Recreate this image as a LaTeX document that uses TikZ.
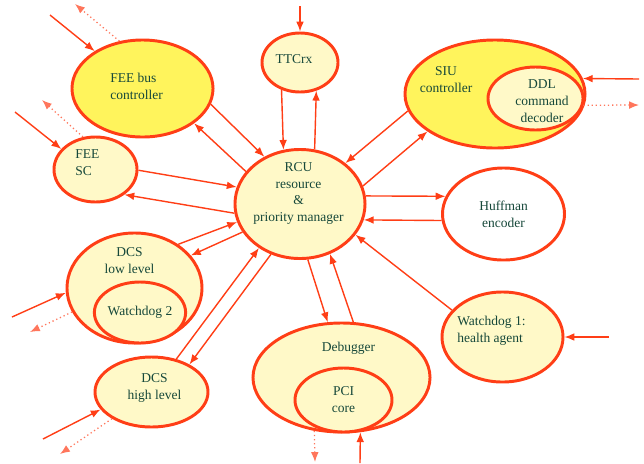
\documentclass[tikz,border=0pt]{standalone}
\usepackage{fontspec}
\setmainfont{Liberation Serif}
\usetikzlibrary{ shapes.geometric, % For the ellipses
                 arrows.meta,
               }
\definecolor{rcured}{RGB}{255,62,22}
\definecolor{rcudot}{RGB}{255,118,92}
\definecolor{rcupale}{RGB}{255,249,200}
\definecolor{rcuyellow}{RGB}{255,244,92}
\definecolor{rcutext}{RGB}{22,72,58}
\tikzstyle{unit} = [ellipse, draw=rcured, line width=2.1pt, fill=rcupale, inner sep=0pt,
                    text=rcutext, align=center, font=\fontsize{9.6}{12}\selectfont]
\tikzstyle{hotunit} = [unit, fill=rcuyellow]
\tikzstyle{txt} = [text=rcutext, align=center, inner sep=0pt, font=\fontsize{9.6}{12}\selectfont]
\tikzstyle{link} = [draw=rcured, line width=1pt, -{Latex[length=7pt,width=5.5pt]}]
\tikzstyle{spare} = [draw=rcudot, line width=0.9pt, dotted, -{Latex[length=7pt,width=5.5pt]}]

\begin{document}
\begin{tikzpicture}[x=0.025cm, y=-0.025cm]
  \useasboundingbox (0,0) rectangle (644,463);

  % the units
  \node (fee_bus) [hotunit, minimum width=3.525cm, minimum height=2.425cm] at (142.5, 88.5) {};
  \node (fee_sc) [unit, minimum width=2.075cm, minimum height=1.625cm] at (95.5, 169.5) {};
  \node (ttcrx) [unit, minimum width=1.9cm, minimum height=1.475cm] at (300, 62.5) {};
  \node (rcu) [unit, minimum width=3.25cm, minimum height=2.725cm] at (300, 204) {};
  \node (siu) [hotunit, minimum width=4.5cm, minimum height=2.7cm] at (495, 94) {};
  \node (ddl) [unit, minimum width=2.375cm, minimum height=1.575cm] at (535.5, 98.5) {};
  \node (huffman) [unit, fill=white, minimum width=3.05cm, minimum height=2.3cm] at (503.5, 214) {Huffman\\encoder};
  \node (wd_1) [unit, minimum width=3.025cm, minimum height=2.25cm] at (502.5, 337) {};
  \node (dcs_low) [unit, minimum width=3.375cm, minimum height=2.75cm] at (134.5, 288) {};
  \node (wd_2) [unit, minimum width=2.25cm, minimum height=1.525cm] at (140, 312.5) {Watchdog 2};
  \node (dcs_high) [unit, minimum width=2.825cm, minimum height=1.75cm] at (151.5, 392) {};
  \node (debugger) [unit, minimum width=4.425cm, minimum height=2.725cm] at (341.5, 377.5) {};
  \node (pci) [unit, minimum width=2.425cm, minimum height=1.6cm] at (343.5, 400) {PCI\\core};

  % the texts
  \node (fee_bus_txt) [txt, anchor=west, align=left] at (110, 86) {FEE bus\\controller};
  \node (fee_sc_txt) [txt, anchor=west, align=left] at (75, 163) {FEE\\SC};
  \node (ttcrx_txt) [txt] at (294, 59) {TTCrx};
  \node (rcu_txt) [txt] at (298.5, 193.5) {RCU\\resource\\\&\\priority manager};
  \node (siu_txt) [txt] at (446, 80) {SIU\\controller};
  \node (ddl_txt) [txt] at (542, 101) {DDL\\command\\decoder};
  \node (wd_1_txt) [txt, anchor=west, align=left] at (457, 330.5) {Watchdog 1:\\health agent};
  \node (dcs_low_txt) [txt] at (129.5, 261) {DCS\\low level};
  \node (dcs_high_txt) [txt] at (154.5, 388) {DCS\\high level};
  \node (debugger_txt) [txt] at (348.5, 348) {Debugger};

  % links to and from the RCU
  \draw[link] (fee_bus.-13) -- (rcu.127);
  \draw[link] (rcu.149) -- (fee_bus.-34);
  \draw[link] (fee_sc.-1) -- (rcu.165);
  \draw[link] (rcu.188) -- (fee_sc.-41);
  \draw[link] (ttcrx.-124) -- (rcu.107);
  \draw[link] (rcu.75) -- (ttcrx.-60);
  \draw[link] (siu.191) -- (rcu.42);
  \draw[link] (rcu.16) -- (siu.209);
  \draw[link] (rcu.7) -- (huffman.163);
  \draw[link] (huffman.186) -- (rcu.-14);
  \draw[link] (wd_1.152) -- (rcu.-29);
  \draw[link] (rcu.-82) -- (debugger.104);
  \draw[link] (debugger.78) -- (rcu.-59);
  \draw[link] (dcs_low.45) -- (rcu.196);
  \draw[link] (rcu.206) -- (dcs_low.30);
  \draw[link] (dcs_high.53) -- (rcu.227);
  \draw[link] (rcu.240) -- (dcs_high.36);

  % outside world
  \coordinate (fee_bus_in) at (50, 15);
  \coordinate (fee_bus_out) at (75, 4);
  \coordinate (fee_sc_in) at (15, 112);
  \coordinate (fee_sc_out) at (42, 100);
  \coordinate (ttcrx_in) at (300, 6);
  \coordinate (siu_in) at (639, 79);
  \coordinate (ddl_out) at (639, 105);
  \coordinate (wd_1_in) at (609, 337);
  \coordinate (dcs_low_in) at (12, 317);
  \coordinate (dcs_low_out) at (30, 332);
  \coordinate (dcs_high_in) at (43, 439);
  \coordinate (dcs_high_out) at (60, 454);
  \coordinate (debugger_out) at (315, 462);
  \coordinate (debugger_in) at (360, 463);

  \draw[link] (fee_bus_in) -- (fee_bus.142);
  \draw[spare] (fee_bus.116) -- (fee_bus_out);
  \draw[link] (fee_sc_in) -- (fee_sc.149);
  \draw[spare] (fee_sc.111) -- (fee_sc_out);
  \draw[link] (ttcrx_in) -- (ttcrx.north);
  \draw[link] (siu_in) -- (siu.10);
  \draw[spare] (ddl.-8) -- (ddl_out);
  \draw[link] (wd_1_in) -- (wd_1.east);
  \draw[link] (dcs_low_in) -- (dcs_low.184);
  \draw[spare] (dcs_low.201) -- (dcs_low_out);
  \draw[link] (dcs_high_in) -- (dcs_high.199);
  \draw[spare] (dcs_high.214) -- (dcs_high_out);
  \draw[spare] (debugger.243) -- (debugger_out);
  \draw[link] (debugger_in) -- (debugger.-71);

\end{tikzpicture}
\end{document}
